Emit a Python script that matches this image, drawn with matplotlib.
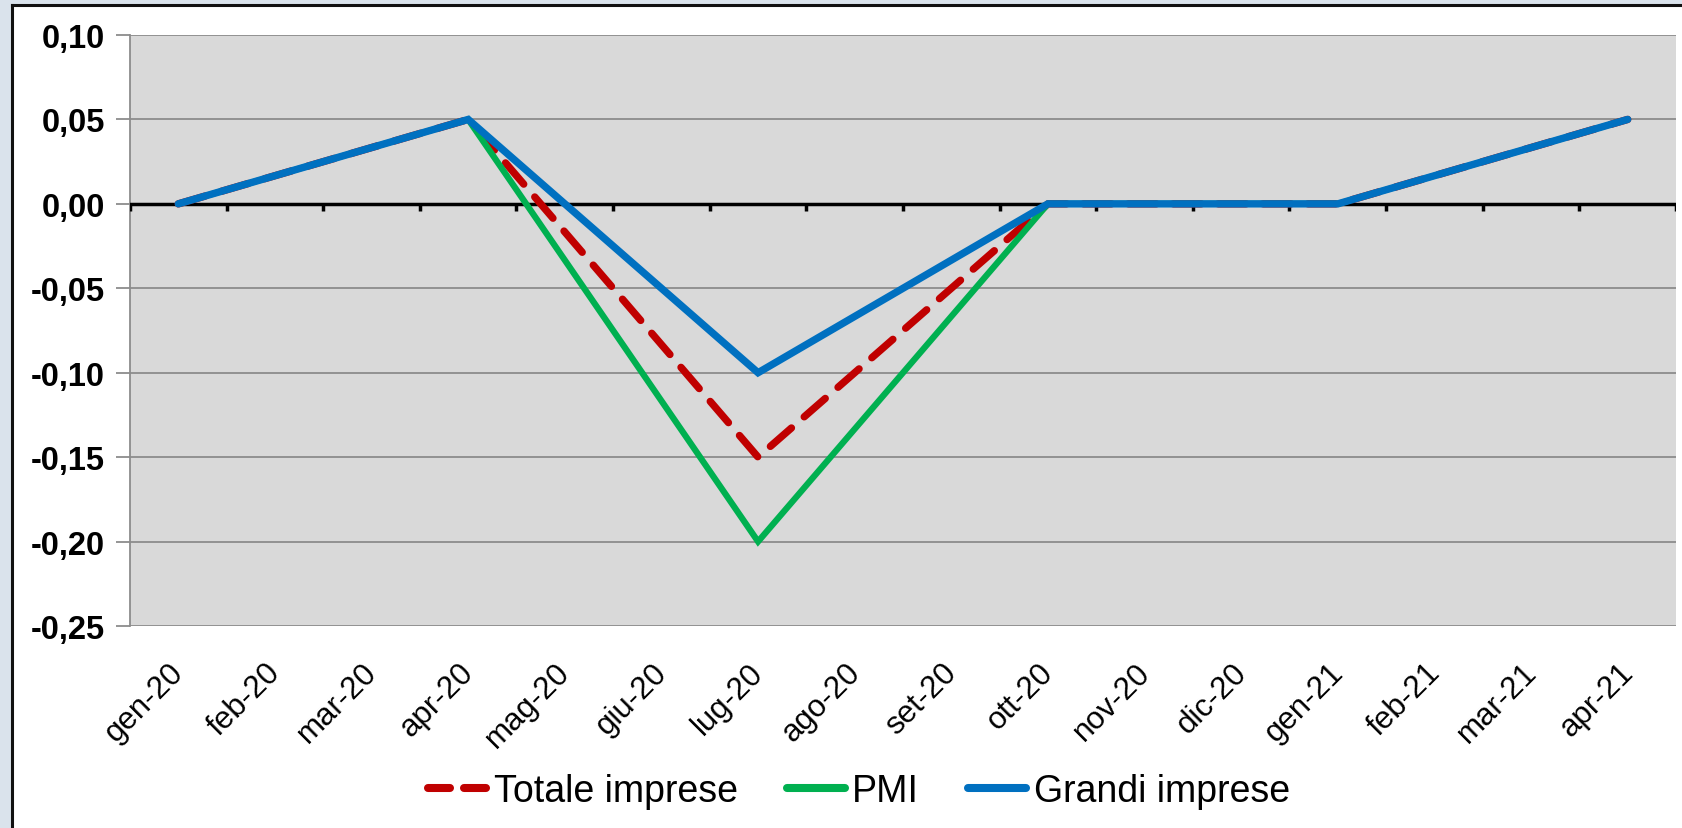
import numpy as np
import matplotlib.pyplot as plt
from matplotlib.patches import Rectangle
from matplotlib.lines import Line2D
from matplotlib.transforms import ScaledTranslation

months = ['gen-20', 'feb-20', 'mar-20', 'apr-20', 'mag-20', 'giu-20', 'lug-20',
          'ago-20', 'set-20', 'ott-20', 'nov-20', 'dic-20', 'gen-21', 'feb-21',
          'mar-21', 'apr-21']
# quarterly observations (months without a value are left empty)
obs_months = ['gen-20', 'apr-20', 'lug-20', 'ott-20', 'gen-21', 'apr-21']
totale = [0.00, 0.05, -0.15, 0.00, 0.00, 0.05]
pmi = [0.00, 0.05, -0.20, 0.00, 0.00, 0.05]
grandi = [0.00, 0.05, -0.10, 0.00, 0.00, 0.05]
yticks = [0.10, 0.05, 0.00, -0.05, -0.10, -0.15, -0.20, -0.25]

W, H = 1683, 829
fig = plt.figure(figsize=(W / 100, H / 100), dpi=100)
fig.patch.set_facecolor('#DAE3EC')

# white chart area with black border on top / left
bg = fig.add_axes([0, 0, 1, 1])
bg.set_xlim(0, W)
bg.set_ylim(H, 0)
bg.axis('off')
bg.add_patch(Rectangle((12, 6), W, H, facecolor='white', edgecolor='none'))
bg.plot([12, 12], [H, 6], color='#111111', lw=2.2)
bg.plot([12, W], [6, 6], color='#111111', lw=2.2)

left, right, top, bottom = 130, 1676, 36, 627
ax = fig.add_axes([left / W, 1 - bottom / H, (right - left) / W, (bottom - top) / H])
ax.set_facecolor('#D9D9D9')

x = np.arange(len(months))
xo = [months.index(m) for m in obs_months]

ax.plot(xo, totale, color='#C00000', lw=5.3, ls=(0, (3.8, 2.3)),
        dash_capstyle='round', solid_capstyle='round', zorder=4, label='Totale imprese')
ax.plot(xo, pmi, color='#00B050', lw=4.5, solid_capstyle='round',
        solid_joinstyle='miter', zorder=5, label='PMI')
ax.plot(xo, grandi, color='#0070C0', lw=5.3, solid_capstyle='round',
        solid_joinstyle='miter', zorder=6, label='Grandi imprese')

ax.set_xlim(-0.5, len(months) - 0.5)
ax.set_ylim(-0.25, 0.10)
ax.set_yticks(yticks)
ax.set_yticklabels([f'{v:.2f}'.replace('.', ',') for v in yticks],
                   fontsize=23.5, fontweight='bold', family='Liberation Sans')
ax.yaxis.grid(True, color='#8C8C8C', lw=1.3)
ax.set_axisbelow(True)
ax.tick_params(axis='y', length=10, color='#8C8C8C', width=1.3, pad=8)

# category labels
ax.set_xticks(x)
ax.set_xticklabels(months, rotation=45, ha='right', va='center',
                   rotation_mode='anchor', fontsize=22.5, family='Liberation Sans')
ax.tick_params(axis='x', length=0, pad=30)
for lab in ax.get_xticklabels():
    lab.set_transform(lab.get_transform() + ScaledTranslation(1 / 100, 0, fig.dpi_scale_trans))

for s in ['top', 'right', 'bottom']:
    ax.spines[s].set_visible(False)
ax.spines['left'].set_color('#8C8C8C')
ax.spines['left'].set_linewidth(1.3)

# horizontal axis through zero with tick marks at category boundaries
ax.axhline(0, color='black', lw=2.5, zorder=3)
for b in np.arange(-0.5, len(months) + 0.5, 1):
    ax.plot([b, b], [0, -0.0045], color='black', lw=2.5, zorder=3,
            solid_capstyle='butt')

handles = [Line2D([], [], color='#C00000', lw=5.8, ls=(0, (2.73, 1.74)), dash_capstyle='round'),
           Line2D([], [], color='#00B050', lw=5.8, solid_capstyle='round'),
           Line2D([], [], color='#0070C0', lw=5.8, solid_capstyle='round')]
fig.legend(handles, ['Totale imprese', 'PMI', 'Grandi imprese'], loc='center',
           bbox_to_anchor=(859 / W, 1 - 792 / H), ncol=3, frameon=False,
           handlelength=1.55, handletextpad=0.2, columnspacing=1.3,
           prop={'family': 'Liberation Sans', 'size': 27})

fig.savefig('out.png', dpi=100, facecolor=fig.get_facecolor())
